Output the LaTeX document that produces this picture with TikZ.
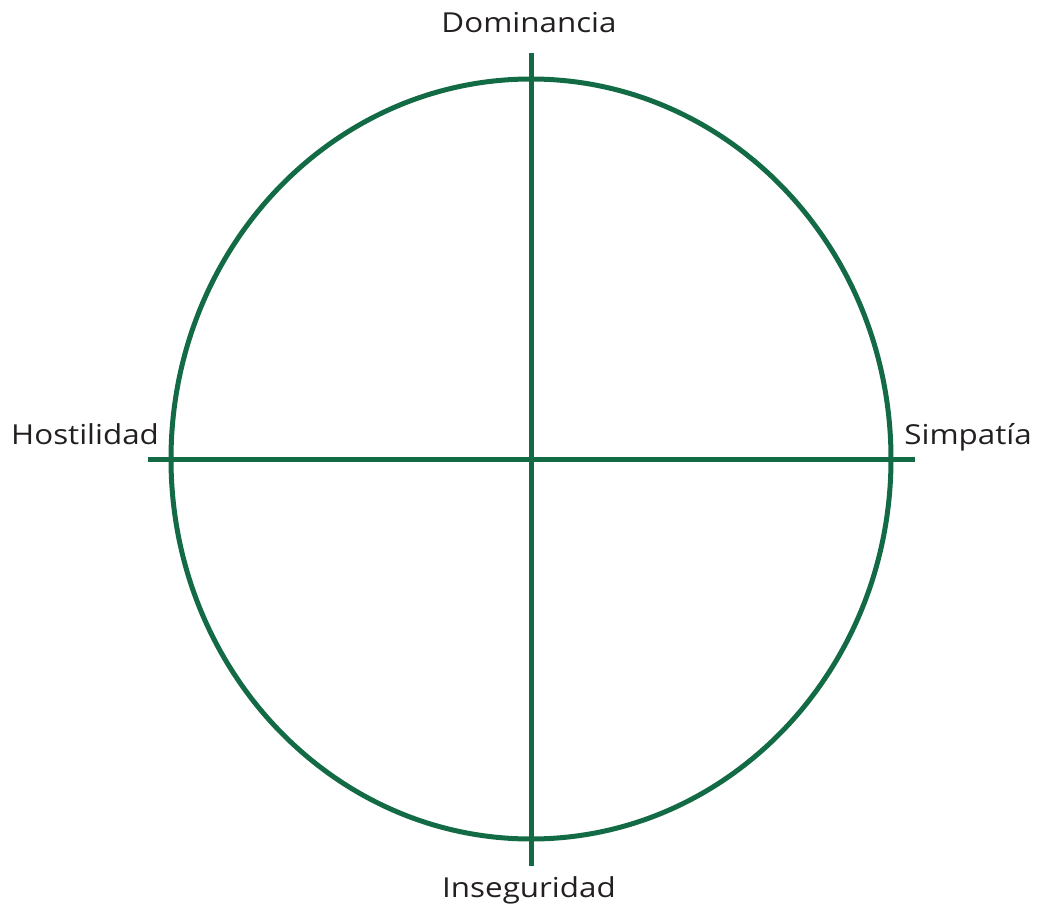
\documentclass[tikz,border=0pt]{standalone}
\usepackage{fontspec}
\setmainfont{Open Sans}[FakeStretch=1.14]
\definecolor{axgreen}{HTML}{136B45}
\definecolor{txt}{HTML}{231F20}
\begin{document}
\begin{tikzpicture}[x=1pt,y=-1pt,
  axis/.style={draw=axgreen,line width=5pt},
  lbl/.style={text=txt,font=\fontsize{27.5}{32}\selectfont,inner sep=0pt}]
\useasboundingbox (0,0) rectangle (1047,909);
\coordinate (c) at (531,459);
\draw[axis] (c) ellipse [x radius=360, y radius=380];
\coordinate (top) at (531,53);
\coordinate (bot) at (531,866);
\coordinate (lft) at (148,459);
\coordinate (rgt) at (915,459);
\draw[axis] (top) -- (bot);
\draw[axis] (lft) -- (rgt);
\node[lbl,anchor=base] (dom) at (529,33) {Dominancia};
\node[lbl,anchor=base] (ins) at (529,897) {Inseguridad};
\node[lbl,anchor=base west] (hos) at (11,444) {Hostilidad};
\node[lbl,anchor=base east] (sim) at (1032,444) {Simpatía};
\end{tikzpicture}
\end{document}
